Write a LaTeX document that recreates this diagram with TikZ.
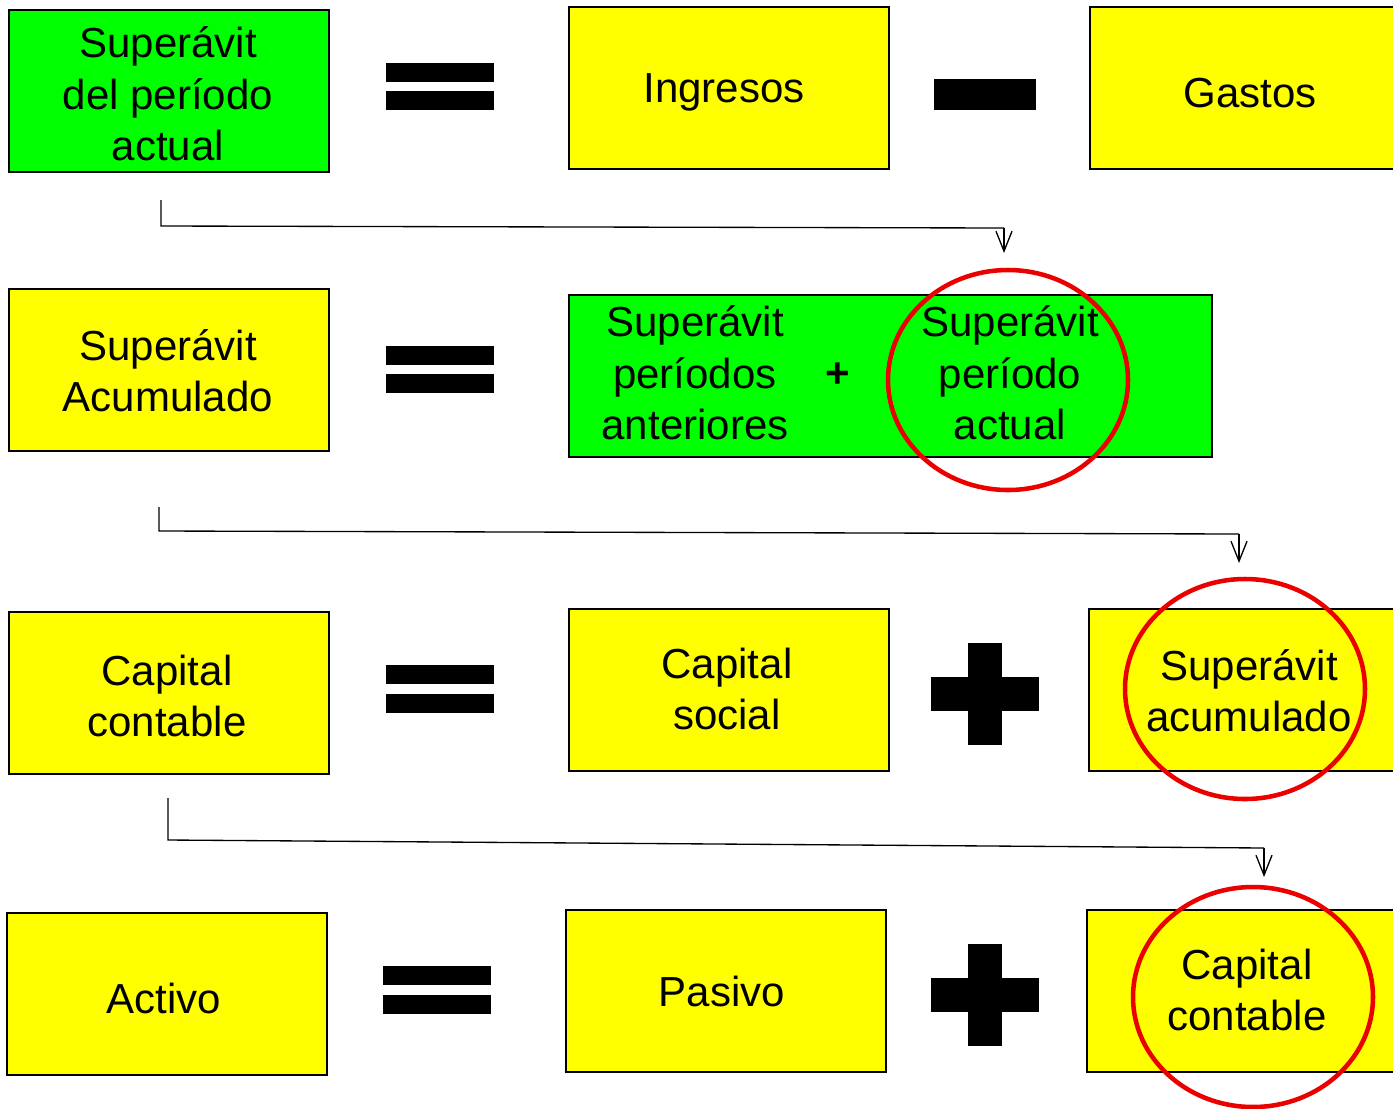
\documentclass[tikz,border=0pt]{standalone}
\usepackage{fontspec}
\setmainfont{Liberation Sans}
\usetikzlibrary{arrows.meta,shapes.geometric}
\definecolor{boxyellow}{RGB}{255,255,0}
\definecolor{boxgreen}{RGB}{0,255,0}
\definecolor{ringred}{RGB}{235,0,0}
\tikzset{
  box/.style={draw=black, line width=1.5pt, minimum width=240pt, minimum height=121.5pt,
    inner sep=0pt, align=center, font=\fontsize{31.5}{38.5}\selectfont},
  ybox/.style={box, fill=boxyellow},
  gbox/.style={box, fill=boxgreen},
  txt/.style={align=center, inner sep=0pt, font=\fontsize{31.5}{38.5}\selectfont},
  ring/.style={draw=ringred, line width=3.4pt, ellipse, minimum width=180pt, minimum height=165pt, inner sep=0pt},
  conn/.style={draw=black, line width=1pt},
  conntip/.style={conn, -{Straight Barb[length=15pt,width=12pt,line width=1pt]}},
  bar/.style={fill=black}
}
\begin{document}
\begin{tikzpicture}[x=0.75pt,y=-0.75pt]
\useasboundingbox (0,0) rectangle (1393,1108);
\clip (0,0) rectangle (1393,1108);

% Row 1
\node[gbox] (sda) at (169,91) {};
\node[txt] (sdat) at (168,94) {Superávit\\del período\\actual};
\fill[bar] (386,63) rectangle (494,82);
\fill[bar] (386,91) rectangle (494,110);
\node[ybox] (ing) at (729,88) {};
\node[txt] (ingt) at (724,92) {Ingresos};
\fill[bar] (934,79) rectangle (1036,110);
\node[ybox] (gas) at (1250,88) {};
\node[txt] (gast) at (1250,93) {Gastos};

% Arrow 1
\coordinate (a1s) at (161,200);
\coordinate (a1c) at (161,226);
\coordinate (a1d) at (1004,228);
\coordinate (a1e) at (1004,253);
\draw[conn] (a1s) -- (a1c) -- (a1d);
\draw[conntip] (a1d) -- (a1e);

% Row 2
\node[ybox] (sac) at (169,370) {};
\node[txt] (sact) at (168,371) {Superávit\\Acumulado};
\fill[bar] (386,346) rectangle (494,365);
\fill[bar] (386,374) rectangle (494,393);
\node[gbox, minimum width=482.25pt] (sum) at (890.5,375.5) {};
\node[txt] (spa) at (695,373) {Superávit\\períodos\\anteriores};
\node[txt, font=\fontsize{31.5}{38.5}\selectfont\bfseries] (pls) at (838,375) {+};
\node[txt] (spac) at (1010,373) {Superávit\\período\\actual};
\node[ring] (r1) at (1008,380) {};

% Arrow 2
\coordinate (a2s) at (159,507);
\coordinate (a2c) at (159,531);
\coordinate (a2d) at (1239,534);
\coordinate (a2e) at (1239,563);
\draw[conn] (a2s) -- (a2c) -- (a2d);
\draw[conntip] (a2d) -- (a2e);

% Row 3
\node[ybox] (cc) at (169,693) {};
\node[txt] (cct) at (167,696) {Capital\\contable};
\fill[bar] (386,665) rectangle (494,684);
\fill[bar] (386,694) rectangle (494,713);
\node[ybox] (cs) at (729,690) {};
\node[txt] (cst) at (727,689) {Capital\\social};
\fill[bar] (968,643) rectangle (1002,745);
\fill[bar] (931,677) rectangle (1039,711);
\node[ybox] (sa2) at (1249,690) {};
\node[txt] (sa2t) at (1249,691) {Superávit\\acumulado};
\node[ring] (r2) at (1245,689) {};

% Arrow 3
\coordinate (a3s) at (168,798);
\coordinate (a3c) at (168,840);
\coordinate (a3d) at (1264,848);
\coordinate (a3e) at (1264,877);
\draw[conn] (a3s) -- (a3c) -- (a3d);
\draw[conntip] (a3d) -- (a3e);

% Row 4
\node[ybox] (act) at (166.5,994) {};
\node[txt] (actt) at (164,998) {Activo};
\fill[bar] (383,966) rectangle (491,985);
\fill[bar] (383,995) rectangle (491,1014);
\node[ybox] (pas) at (726,991) {};
\node[txt] (past) at (722,991) {Pasivo};
\fill[bar] (968,944) rectangle (1002,1046);
\fill[bar] (931,978) rectangle (1039,1012);
\node[ybox] (cc2) at (1247,991) {};
\node[txt] (cc2t) at (1247,990) {Capital\\contable};
\node[ring] (r3) at (1253,997) {};
\end{tikzpicture}
\end{document}
